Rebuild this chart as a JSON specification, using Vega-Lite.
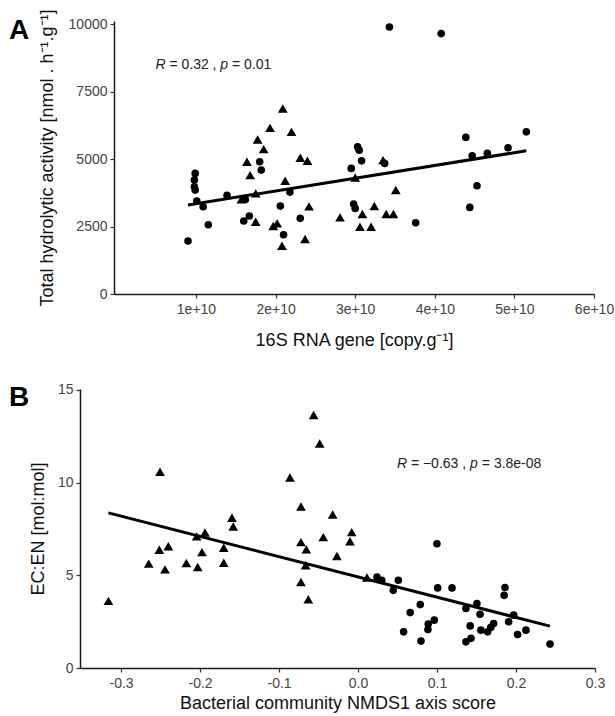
{
  "$schema": "https://vega.github.io/schema/vega-lite/v6.json",
  "padding": {"left": 8, "top": 8, "right": 0, "bottom": 2},
  "background": "white",
  "spacing": 33,
  "config": {
    "font": "Liberation Sans",
    "view": {"stroke": null},
    "locale": {"number": {"decimal": ".", "thousands": "", "grouping": [3], "currency": ["$", ""], "minus": "-"}},
    "axis": {
      "grid": false,
      "domainColor": "#1a1a1a",
      "domainWidth": 1.5,
      "tickColor": "#333333",
      "tickWidth": 1.2,
      "tickSize": 4,
      "labelFont": "Liberation Sans",
      "labelFontSize": 14,
      "labelColor": "#444444",
      "labelFlush": false,
      "labelOverlap": false,
      "titleFont": "Liberation Sans",
      "titleFontSize": 18,
      "titleFontWeight": "normal",
      "titleColor": "#111111"
    },
    "axisX": {"labelPadding": 4},
    "axisY": {"labelPadding": 3}
  },
  "datasets": {
    "ptsA": [
      {"x": 3.43e10, "y": 9900, "g": "dot"},
      {"x": 4.08e10, "y": 9654, "g": "dot"},
      {"x": 0.90e10, "y": 1963, "g": "dot"},
      {"x": 0.99e10, "y": 4470, "g": "dot"},
      {"x": 0.98e10, "y": 4222, "g": "dot"},
      {"x": 0.98e10, "y": 3974, "g": "dot"},
      {"x": 0.99e10, "y": 3852, "g": "dot"},
      {"x": 1.01e10, "y": 3444, "g": "dot"},
      {"x": 1.09e10, "y": 3233, "g": "dot"},
      {"x": 1.155e10, "y": 2567, "g": "dot"},
      {"x": 1.39e10, "y": 3655, "g": "dot"},
      {"x": 1.62e10, "y": 3507, "g": "dot"},
      {"x": 1.60e10, "y": 2704, "g": "dot"},
      {"x": 1.67e10, "y": 2889, "g": "dot"},
      {"x": 1.80e10, "y": 4900, "g": "dot"},
      {"x": 1.82e10, "y": 4593, "g": "dot"},
      {"x": 2.06e10, "y": 3259, "g": "dot"},
      {"x": 2.10e10, "y": 2196, "g": "dot"},
      {"x": 2.18e10, "y": 3778, "g": "dot"},
      {"x": 2.31e10, "y": 2804, "g": "dot"},
      {"x": 2.95e10, "y": 4656, "g": "dot"},
      {"x": 3.03e10, "y": 5456, "g": "dot"},
      {"x": 3.05e10, "y": 5333, "g": "dot"},
      {"x": 3.08e10, "y": 4937, "g": "dot"},
      {"x": 2.98e10, "y": 3333, "g": "dot"},
      {"x": 3.00e10, "y": 3174, "g": "dot"},
      {"x": 3.37e10, "y": 4841, "g": "dot"},
      {"x": 3.76e10, "y": 2641, "g": "dot"},
      {"x": 4.39e10, "y": 5804, "g": "dot"},
      {"x": 4.47e10, "y": 5122, "g": "dot"},
      {"x": 4.53e10, "y": 4011, "g": "dot"},
      {"x": 4.44e10, "y": 3211, "g": "dot"},
      {"x": 4.66e10, "y": 5211, "g": "dot"},
      {"x": 4.92e10, "y": 5419, "g": "dot"},
      {"x": 5.15e10, "y": 6011, "g": "dot"},
      {"x": 2.09e10, "y": 6878, "g": "tri"},
      {"x": 1.93e10, "y": 6159, "g": "tri"},
      {"x": 2.20e10, "y": 6011, "g": "tri"},
      {"x": 1.775e10, "y": 5730, "g": "tri"},
      {"x": 1.85e10, "y": 5370, "g": "tri"},
      {"x": 1.64e10, "y": 4900, "g": "tri"},
      {"x": 1.68e10, "y": 4407, "g": "tri"},
      {"x": 2.31e10, "y": 5048, "g": "tri"},
      {"x": 2.40e10, "y": 4937, "g": "tri"},
      {"x": 2.12e10, "y": 4196, "g": "tri"},
      {"x": 1.57e10, "y": 3507, "g": "tri"},
      {"x": 1.75e10, "y": 3730, "g": "tri"},
      {"x": 2.42e10, "y": 3248, "g": "tri"},
      {"x": 1.75e10, "y": 2678, "g": "tri"},
      {"x": 1.97e10, "y": 2519, "g": "tri"},
      {"x": 2.02e10, "y": 2618, "g": "tri"},
      {"x": 2.08e10, "y": 1789, "g": "tri"},
      {"x": 2.37e10, "y": 2037, "g": "tri"},
      {"x": 2.81e10, "y": 2841, "g": "tri"},
      {"x": 3.09e10, "y": 2963, "g": "tri"},
      {"x": 3.06e10, "y": 2493, "g": "tri"},
      {"x": 3.20e10, "y": 2493, "g": "tri"},
      {"x": 3.24e10, "y": 3259, "g": "tri"},
      {"x": 3.39e10, "y": 2963, "g": "tri"},
      {"x": 3.48e10, "y": 2963, "g": "tri"},
      {"x": 3.51e10, "y": 3852, "g": "tri"},
      {"x": 3.00e10, "y": 4322, "g": "tri"},
      {"x": 3.35e10, "y": 4963, "g": "tri"}
    ],
    "lineA": [
      {"x": 0.90e10, "y": 3300},
      {"x": 5.15e10, "y": 5310}
    ],
    "txtA": [
      {"x": 0.49e10, "y": 8500, "t": "R", "it": "yes"},
      {"x": 0.666e10, "y": 8500, "t": "= 0.32 ,", "it": "no"},
      {"x": 1.306e10, "y": 8500, "t": "p", "it": "yes"},
      {"x": 1.453e10, "y": 8500, "t": "= 0.01", "it": "no"}
    ],
    "labA": [{"x": -1.349e10, "y": 9444, "t": "A"}],
    "ptsB": [
      {"x": -0.316, "y": 3.62, "g": "tri"},
      {"x": -0.2507, "y": 10.59, "g": "tri"},
      {"x": -0.265, "y": 5.63, "g": "tri"},
      {"x": -0.2516, "y": 6.38, "g": "tri"},
      {"x": -0.2402, "y": 6.57, "g": "tri"},
      {"x": -0.2444, "y": 5.32, "g": "tri"},
      {"x": -0.2174, "y": 5.66, "g": "tri"},
      {"x": -0.203, "y": 5.45, "g": "tri"},
      {"x": -0.2043, "y": 7.10, "g": "tri"},
      {"x": -0.1938, "y": 7.31, "g": "tri"},
      {"x": -0.1976, "y": 6.25, "g": "tri"},
      {"x": -0.170, "y": 5.68, "g": "tri"},
      {"x": -0.170, "y": 6.49, "g": "tri"},
      {"x": -0.1596, "y": 8.10, "g": "tri"},
      {"x": -0.158, "y": 7.63, "g": "tri"},
      {"x": -0.0562, "y": 13.65, "g": "tri"},
      {"x": -0.0486, "y": 12.11, "g": "tri"},
      {"x": -0.0862, "y": 10.28, "g": "tri"},
      {"x": -0.0723, "y": 8.71, "g": "tri"},
      {"x": -0.0321, "y": 8.28, "g": "tri"},
      {"x": -0.0723, "y": 6.79, "g": "tri"},
      {"x": -0.0655, "y": 6.40, "g": "tri"},
      {"x": -0.0663, "y": 5.54, "g": "tri"},
      {"x": -0.0723, "y": 4.64, "g": "tri"},
      {"x": -0.063, "y": 3.71, "g": "tri"},
      {"x": -0.044, "y": 7.06, "g": "tri"},
      {"x": -0.0267, "y": 6.04, "g": "tri"},
      {"x": -0.008, "y": 7.33, "g": "tri"},
      {"x": -0.0102, "y": 6.84, "g": "tri"},
      {"x": 0.0113, "y": 4.88, "g": "tri"},
      {"x": 0.024, "y": 4.91, "g": "dot"},
      {"x": 0.030, "y": 4.73, "g": "dot"},
      {"x": 0.051, "y": 4.73, "g": "dot"},
      {"x": 0.0446, "y": 4.19, "g": "dot"},
      {"x": 0.0999, "y": 6.70, "g": "dot"},
      {"x": 0.1008, "y": 4.32, "g": "dot"},
      {"x": 0.119, "y": 4.32, "g": "dot"},
      {"x": 0.0577, "y": 1.95, "g": "dot"},
      {"x": 0.066, "y": 2.99, "g": "dot"},
      {"x": 0.0788, "y": 3.42, "g": "dot"},
      {"x": 0.0797, "y": 1.45, "g": "dot"},
      {"x": 0.0889, "y": 2.37, "g": "dot"},
      {"x": 0.0885, "y": 2.08, "g": "dot"},
      {"x": 0.0965, "y": 2.58, "g": "dot"},
      {"x": 0.1366, "y": 3.21, "g": "dot"},
      {"x": 0.1505, "y": 3.48, "g": "dot"},
      {"x": 0.1545, "y": 2.90, "g": "dot"},
      {"x": 0.142, "y": 2.27, "g": "dot"},
      {"x": 0.1366, "y": 1.41, "g": "dot"},
      {"x": 0.143, "y": 1.60, "g": "dot"},
      {"x": 0.1556, "y": 2.04, "g": "dot"},
      {"x": 0.164, "y": 1.95, "g": "dot"},
      {"x": 0.1717, "y": 2.40, "g": "dot"},
      {"x": 0.168, "y": 2.19, "g": "dot"},
      {"x": 0.186, "y": 4.34, "g": "dot"},
      {"x": 0.185, "y": 3.92, "g": "dot"},
      {"x": 0.1907, "y": 2.49, "g": "dot"},
      {"x": 0.197, "y": 2.85, "g": "dot"},
      {"x": 0.202, "y": 1.81, "g": "dot"},
      {"x": 0.2126, "y": 2.04, "g": "dot"},
      {"x": 0.243, "y": 1.29, "g": "dot"}
    ],
    "lineB": [
      {"x": -0.316, "y": 8.37},
      {"x": 0.243, "y": 2.26}
    ],
    "txtB": [
      {"x": 0.0492, "y": 11.03, "t": "R", "it": "yes"},
      {"x": 0.0669, "y": 11.03, "t": "= −0.63 ,", "it": "no"},
      {"x": 0.1419, "y": 11.03, "t": "p", "it": "yes"},
      {"x": 0.1567, "y": 11.03, "t": "= 3.8e-08", "it": "no"}
    ],
    "labB": [{"x": -0.4419, "y": 14.14, "t": "B"}]
  },
  "vconcat": [
    {
      "width": 514,
      "height": 273,
      "encoding": {
        "x": {"field": "x", "type": "quantitative",
          "scale": {"domain": [-3e8, 6e10], "range": [34, 514], "nice": false, "zero": false},
          "axis": {"values": [1e10, 2e10, 3e10, 4e10, 5e10, 6e10], "format": ".0e", "title": "16S RNA gene [copy.g⁻¹]", "titlePadding": 15}},
        "y": {"field": "y", "type": "quantitative",
          "scale": {"domain": [0, 10120], "nice": false, "zero": false},
          "axis": {"values": [0, 2500, 5000, 7500, 10000], "format": "d", "offset": -34, "title": "Total hydrolytic activity [nmol . h⁻¹.g⁻¹]", "titlePadding": 12}}
      },
      "layer": [
        {
          "data": {"name": "ptsA"},
          "mark": {"type": "point", "filled": true, "opacity": 1, "color": "#000000"},
          "encoding": {
            "shape": {"field": "g", "type": "nominal", "scale": {"domain": ["dot", "tri"], "range": ["circle", "triangle-up"]}, "legend": null},
            "size": {"field": "g", "type": "nominal", "scale": {"domain": ["dot", "tri"], "range": [58, 95]}, "legend": null}
          }
        },
        {
          "data": {"name": "lineA"},
          "mark": {"type": "line", "color": "#000000", "strokeWidth": 3},
          "encoding": {}
        },
        {
          "data": {"name": "txtA"},
          "transform": [{"filter": "datum.it == 'yes'"}],
          "mark": {"type": "text", "align": "left", "baseline": "middle", "fontSize": 14, "fontStyle": "italic", "color": "#222222"},
          "encoding": {"text": {"field": "t"}}
        },
        {
          "data": {"name": "txtA"},
          "transform": [{"filter": "datum.it == 'no'"}],
          "mark": {"type": "text", "align": "left", "baseline": "middle", "fontSize": 14, "color": "#222222"},
          "encoding": {"text": {"field": "t"}}
        },
        {
          "data": {"name": "labA"},
          "mark": {"type": "text", "align": "left", "baseline": "alphabetic", "fontSize": 28, "fontWeight": "bold", "color": "#000000"},
          "encoding": {"text": {"field": "t"}}
        }
      ]
    },
    {
      "width": 515,
      "height": 279,
      "encoding": {
        "x": {"field": "x", "type": "quantitative",
          "scale": {"domain": [-0.352, 0.3], "nice": false, "zero": false},
          "axis": {"values": [-0.3, -0.2, -0.1, 0, 0.1, 0.2, 0.3], "format": ".1f", "title": "Bacterial community NMDS1 axis score", "titlePadding": 4}},
        "y": {"field": "y", "type": "quantitative",
          "scale": {"domain": [0, 15.05], "nice": false, "zero": false},
          "axis": {"values": [0, 5, 10, 15], "title": "EC:EN [mol:mol]", "titlePadding": 10}}
      },
      "layer": [
        {
          "data": {"name": "ptsB"},
          "mark": {"type": "point", "filled": true, "opacity": 1, "color": "#000000"},
          "encoding": {
            "shape": {"field": "g", "type": "nominal", "scale": {"domain": ["dot", "tri"], "range": ["circle", "triangle-up"]}, "legend": null},
            "size": {"field": "g", "type": "nominal", "scale": {"domain": ["dot", "tri"], "range": [58, 95]}, "legend": null}
          }
        },
        {
          "data": {"name": "lineB"},
          "mark": {"type": "line", "color": "#000000", "strokeWidth": 3},
          "encoding": {}
        },
        {
          "data": {"name": "txtB"},
          "transform": [{"filter": "datum.it == 'yes'"}],
          "mark": {"type": "text", "align": "left", "baseline": "middle", "fontSize": 14, "fontStyle": "italic", "color": "#222222"},
          "encoding": {"text": {"field": "t"}}
        },
        {
          "data": {"name": "txtB"},
          "transform": [{"filter": "datum.it == 'no'"}],
          "mark": {"type": "text", "align": "left", "baseline": "middle", "fontSize": 14, "color": "#222222"},
          "encoding": {"text": {"field": "t"}}
        },
        {
          "data": {"name": "labB"},
          "mark": {"type": "text", "align": "left", "baseline": "alphabetic", "fontSize": 28, "fontWeight": "bold", "color": "#000000"},
          "encoding": {"text": {"field": "t"}}
        }
      ]
    }
  ]
}
